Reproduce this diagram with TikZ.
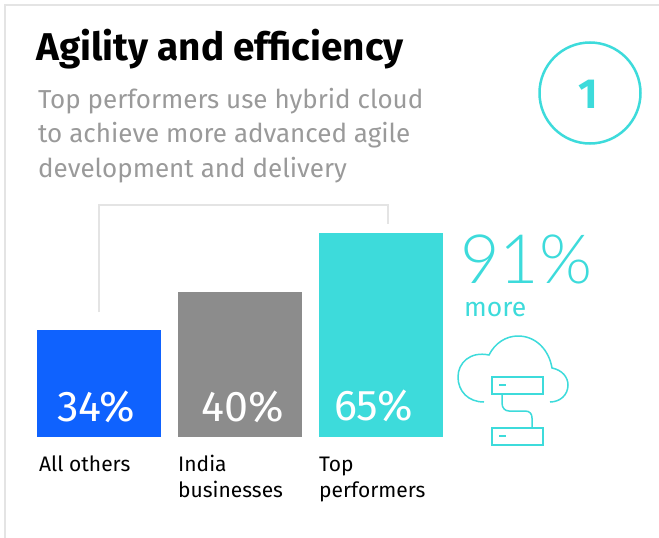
\documentclass[tikz,border=0pt]{standalone}
\usepackage{fontspec}
\usetikzlibrary{calc}
\setmainfont{Fira Sans}
\newfontfamily\lightf{Lato Light}
\definecolor{teal1}{HTML}{3DDBDB}
\definecolor{blue1}{HTML}{0F62FE}
\definecolor{gray1}{HTML}{8C8C8C}
\definecolor{frame1}{HTML}{E4E4E4}
\definecolor{sub1}{HTML}{9A9A9A}
\tikzset{x=1pt,y=-1pt,
 bar/.style={draw=none,inner sep=0,anchor=north west},
 val/.style={text=white,font=\fontsize{43}{46}\selectfont,anchor=base},
 lab/.style={text=black,font=\fontsize{21}{26}\selectfont,anchor=north west,align=left,inner sep=0},
 ic/.style={draw=teal1,line width=1.5pt,fill=none},
 srv/.style={ic,rectangle,minimum width=51pt,minimum height=17pt,inner sep=0,anchor=north west}}
\begin{document}
\begin{tikzpicture}
\useasboundingbox (0,0) rectangle (659,538);
\fill[white] (0,0) rectangle (659,538);
\draw[frame1,line width=2.5pt] (5,538) -- (5,5) -- (659,5);
\node[anchor=base west,inner sep=0,font=\fontsize{38.7}{42}\selectfont\bfseries] (title) at (36,60) {Agility and efficiency};
\node[anchor=north west,inner sep=0,text=sub1,align=left,font=\fontsize{26}{34.5}\selectfont] (sub) at (38,88) {Top performers use hybrid cloud\\to achieve more advanced agile\\development and delivery};
\node[circle,draw=teal1,line width=2.5pt,minimum size=101pt,inner sep=0] (one) at (590,93) {};
\node[inner sep=0,text=teal1,font=\fontsize{42}{44}\selectfont\bfseries] (num) at (588,94) {1};
\node[bar,fill=blue1,minimum width=124pt,minimum height=107pt] (b1) at (37,330) {};
\node[bar,fill=gray1,minimum width=124pt,minimum height=145pt] (b2) at (178,292) {};
\node[bar,fill=teal1,minimum width=124pt,minimum height=204pt] (b3) at (319,233) {};
\node[val] (v1) at (96.5,421) {34\%};
\node[val] (v2) at (243,421) {40\%};
\node[val] (v3) at (373.5,420) {65\%};
\node[lab] (l1) at (39,456) {All others};
\node[lab] (l2) at (178,455) {India\\businesses};
\node[lab] (l3) at (319,457) {Top\\performers};
\coordinate (c1) at (99,312);
\coordinate (c2) at (99,205);
\coordinate (c3) at (388,205);
\coordinate (c4) at (388,224);
\draw[frame1,line width=2pt] (c1) -- (c2) -- (c3) -- (c4);
\node[anchor=base west,inner sep=0,text=teal1,font=\lightf\fontsize{68}{72}\selectfont] (pct) at (460,283) {91\%};
\node[anchor=base west,inner sep=0,text=teal1,font=\fontsize{26.5}{28}\selectfont] (more) at (464,316) {more};
% cloud icon
\draw[ic] (484,402) .. controls (468,402) and (458,391) .. (458,377)
 .. controls (458,363) and (470,351) .. (489,355)
 .. controls (495,343) and (506,336) .. (518,336)
 .. controls (536,336) and (549,350) .. (552,368)
 .. controls (562,370) and (568,377) .. (568,385)
 .. controls (568,395) and (560,402) .. (550,402);
\node[srv,draw] (s1) at (491,376) {};
\node[srv,draw] (s2) at (491,427) {};
\draw[ic] (499,385) -- (506,385);
\draw[ic] (499,436) -- (506,436);
\coordinate (k1) at ($(s1.south west)+(11,0)$);
\coordinate (k2) at ($(s2.north west)+(41,0)$);
\draw[ic] (k1) -- (502,403) .. controls (502,408) and (505,411) .. (509,411) -- (525,411) .. controls (530,411) and (532,414) .. (532,418) -- (k2);
\end{tikzpicture}
\end{document}
